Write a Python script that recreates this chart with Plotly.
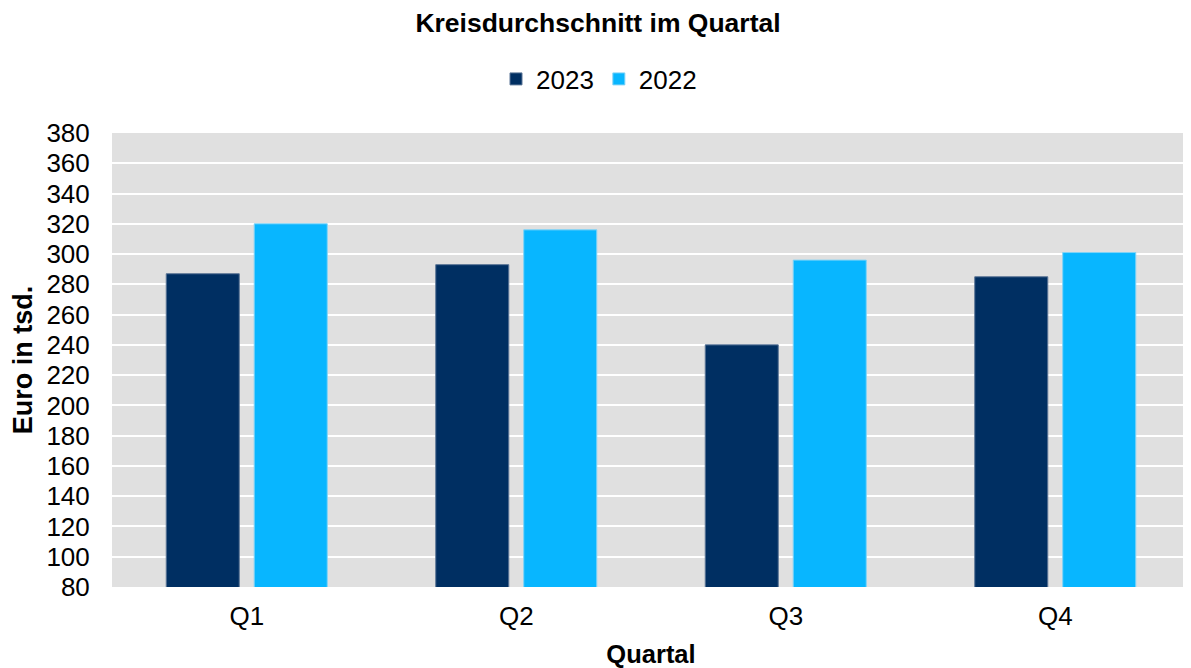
import plotly.graph_objects as go

quartale = ["Q1", "Q2", "Q3", "Q4"]
werte_2023 = [287, 293, 240, 285]
werte_2022 = [320, 316, 296, 301]
y_ticks = list(range(80, 381, 20))

# page has an 8px body margin; figure coords = page coords - 8
W, H = 1183, 660

fig = go.Figure()
fig.add_trace(go.Bar(name="2023", x=quartale, y=werte_2023,
                     marker=dict(color="#002F62", line=dict(color="#5a7596", width=1))))
fig.add_trace(go.Bar(name="2022", x=quartale, y=werte_2022,
                     marker=dict(color="#08B6FF", line=dict(color="#7fd3f7", width=1))))

fig.update_layout(
    width=W, height=H,
    paper_bgcolor="white", plot_bgcolor="#E0E0E0",
    font=dict(family="Liberation Sans, Arial", size=26, color="black"),
    margin=dict(l=104, r=1, t=125, b=81, autoexpand=False),
    barmode="group", bargap=0.347, bargroupgap=0.17,
    title=dict(text="<b>Kreisdurchschnitt im Quartal</b>", x=590 / W, xref="container", xanchor="center",
               y=1 - 15 / H, yref="container", yanchor="middle", font=dict(size=26.5)),
    legend=dict(orientation="h", x=591 / W, xref="container", xanchor="center",
                y=1 - 71 / H, yref="container", yanchor="middle", font=dict(size=26),
                itemwidth=30, traceorder="normal"),
    showlegend=True,
)
fig.update_yaxes(range=[80, 380], tickvals=y_ticks, showgrid=True, gridcolor="white", gridwidth=2,
                 ticks="outside", ticklen=16, tickcolor="rgba(0,0,0,0)", zeroline=False,
                 automargin=False,
                 title=dict(text="<b>Euro in tsd.</b>", standoff=12, font=dict(size=27)))
fig.update_xaxes(ticks="outside", ticklen=6, tickcolor="rgba(0,0,0,0)", showgrid=False,
                 automargin=False,
                 title=dict(text="<b>Quartal</b>", standoff=14, font=dict(size=25.5)))

fig.write_html("out.html")
